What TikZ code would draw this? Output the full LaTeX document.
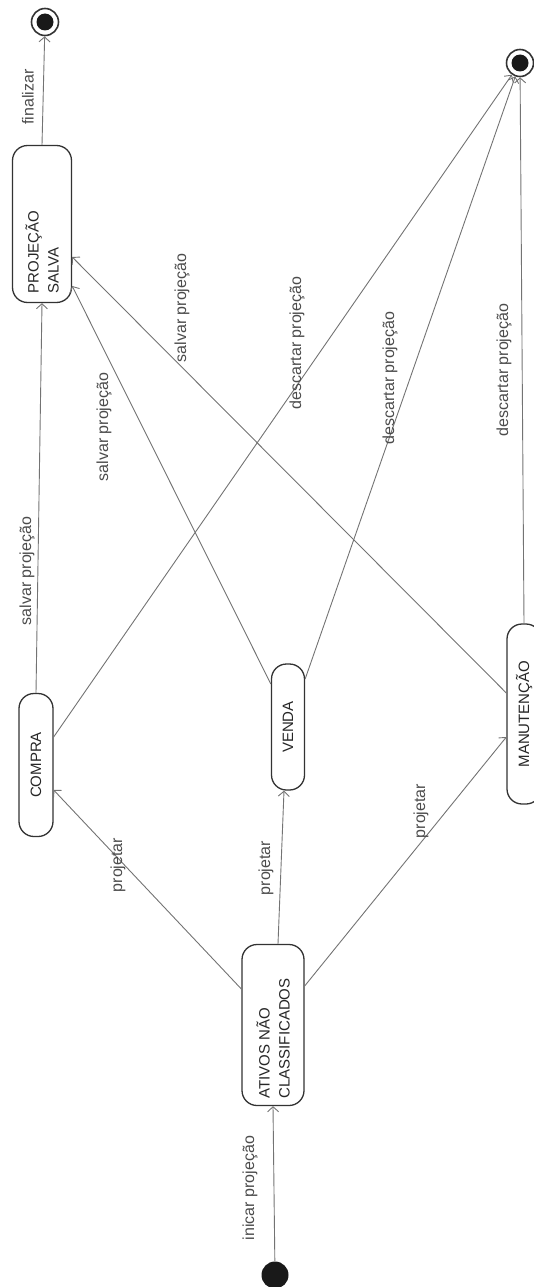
\documentclass[tikz,border=0pt]{standalone}
\usepackage{fontspec}
\setmainfont{Liberation Sans}
\usepackage{graphicx}
\usetikzlibrary{arrows.meta}

\newcommand{\vtxt}[1]{\rotatebox{90}{#1}}

\begin{document}
\begin{tikzpicture}[x=1pt,y=-1pt,
  estado/.style={draw=black!80,line width=1.3pt,rounded corners=15pt,fill=white,inner sep=0pt,
    text=black!85,font=\fontsize{15}{20}\selectfont},
  trans/.style={draw=black!55,line width=0.9pt,-{Straight Barb[length=5pt,width=11pt]}},
  rotulo/.style={rotate=90,inner sep=1pt,text=black!70,font=\fontsize{16}{18}\selectfont},
  inicial/.style={circle,fill=black!90,minimum size=27pt,inner sep=0pt},
  final/.style={circle,draw=black!80,line width=1.6pt,minimum size=27pt,inner sep=0pt}]
\useasboundingbox (0,0) rectangle (534,1287);
% estados
\node[inicial] (ini) at (275,1275) {};
\node[estado,minimum width=62pt,minimum height=161pt] (ativos) at (273,1025)
  {\vtxt{\parbox{147pt}{ATIVOS NÃO\\CLASSIFICADOS}}};
\node[estado,minimum width=34pt,minimum height=143pt] (compra) at (36,765) {\vtxt{COMPRA}};
\node[estado,minimum width=33pt,minimum height=126pt] (venda) at (288,727) {\vtxt{VENDA}};
\node[estado,minimum width=34pt,minimum height=180pt] (manut) at (524,714) {\vtxt{MANUTENÇÃO}};
\node[estado,minimum width=59pt,minimum height=157pt] (salva) at (42,224)
  {\vtxt{\parbox{139pt}{PROJEÇÃO\\SALVA}}};
\node[final] (fimA) at (45,22) {};
\node[final] (fimB) at (520,63) {};
\fill[black!90] (fimA) circle (8.5pt);
\fill[black!90] (fimB) circle (8.5pt);
% transicoes
\draw[trans] (ini) -- (ativos.south);
\draw[trans] ([yshift=36pt]ativos.west) -- ([yshift=-25pt]compra.east);
\draw[trans] ([xshift=5pt]ativos.north) -- ([xshift=-4pt]venda.south);
\draw[trans] ([yshift=39pt]ativos.east) -- ([yshift=-23pt]manut.west);
\draw[trans] (compra.north) -- (salva.south);
\draw[trans] ([yshift=43pt]venda.west) -- ([yshift=-62pt]salva.east);
\draw[trans] ([yshift=21pt]manut.west) -- ([yshift=-33pt]salva.east);
\draw[trans] ([yshift=28pt]compra.east) -- (fimB);
\draw[trans] ([yshift=48pt]venda.east) -- (fimB);
\draw[trans] (manut.north) -- (fimB);
\draw[trans] (salva.north) -- (fimA);
% rotulos
\node[rotulo] (lIni) at (250,1188) {inicar projeção};
\node[rotulo] (lFim) at (28,97) {finalizar};
\node[rotulo] (lPc) at (118,865) {projetar};
\node[rotulo] (lPv) at (266,868) {projetar};
\node[rotulo] (lPm) at (421,811) {projetar};
\node[rotulo] (lSc) at (27,571) {salvar projeção};
\node[rotulo] (lSv) at (104,427) {salvar projeção};
\node[rotulo] (lSm) at (182,308) {salvar projeção};
\node[rotulo] (lDc) at (297,343) {descartar projeção};
\node[rotulo] (lDv) at (390,378) {descartar projeção};
\node[rotulo] (lDm) at (504,370) {descartar projeção};
\end{tikzpicture}
\end{document}
